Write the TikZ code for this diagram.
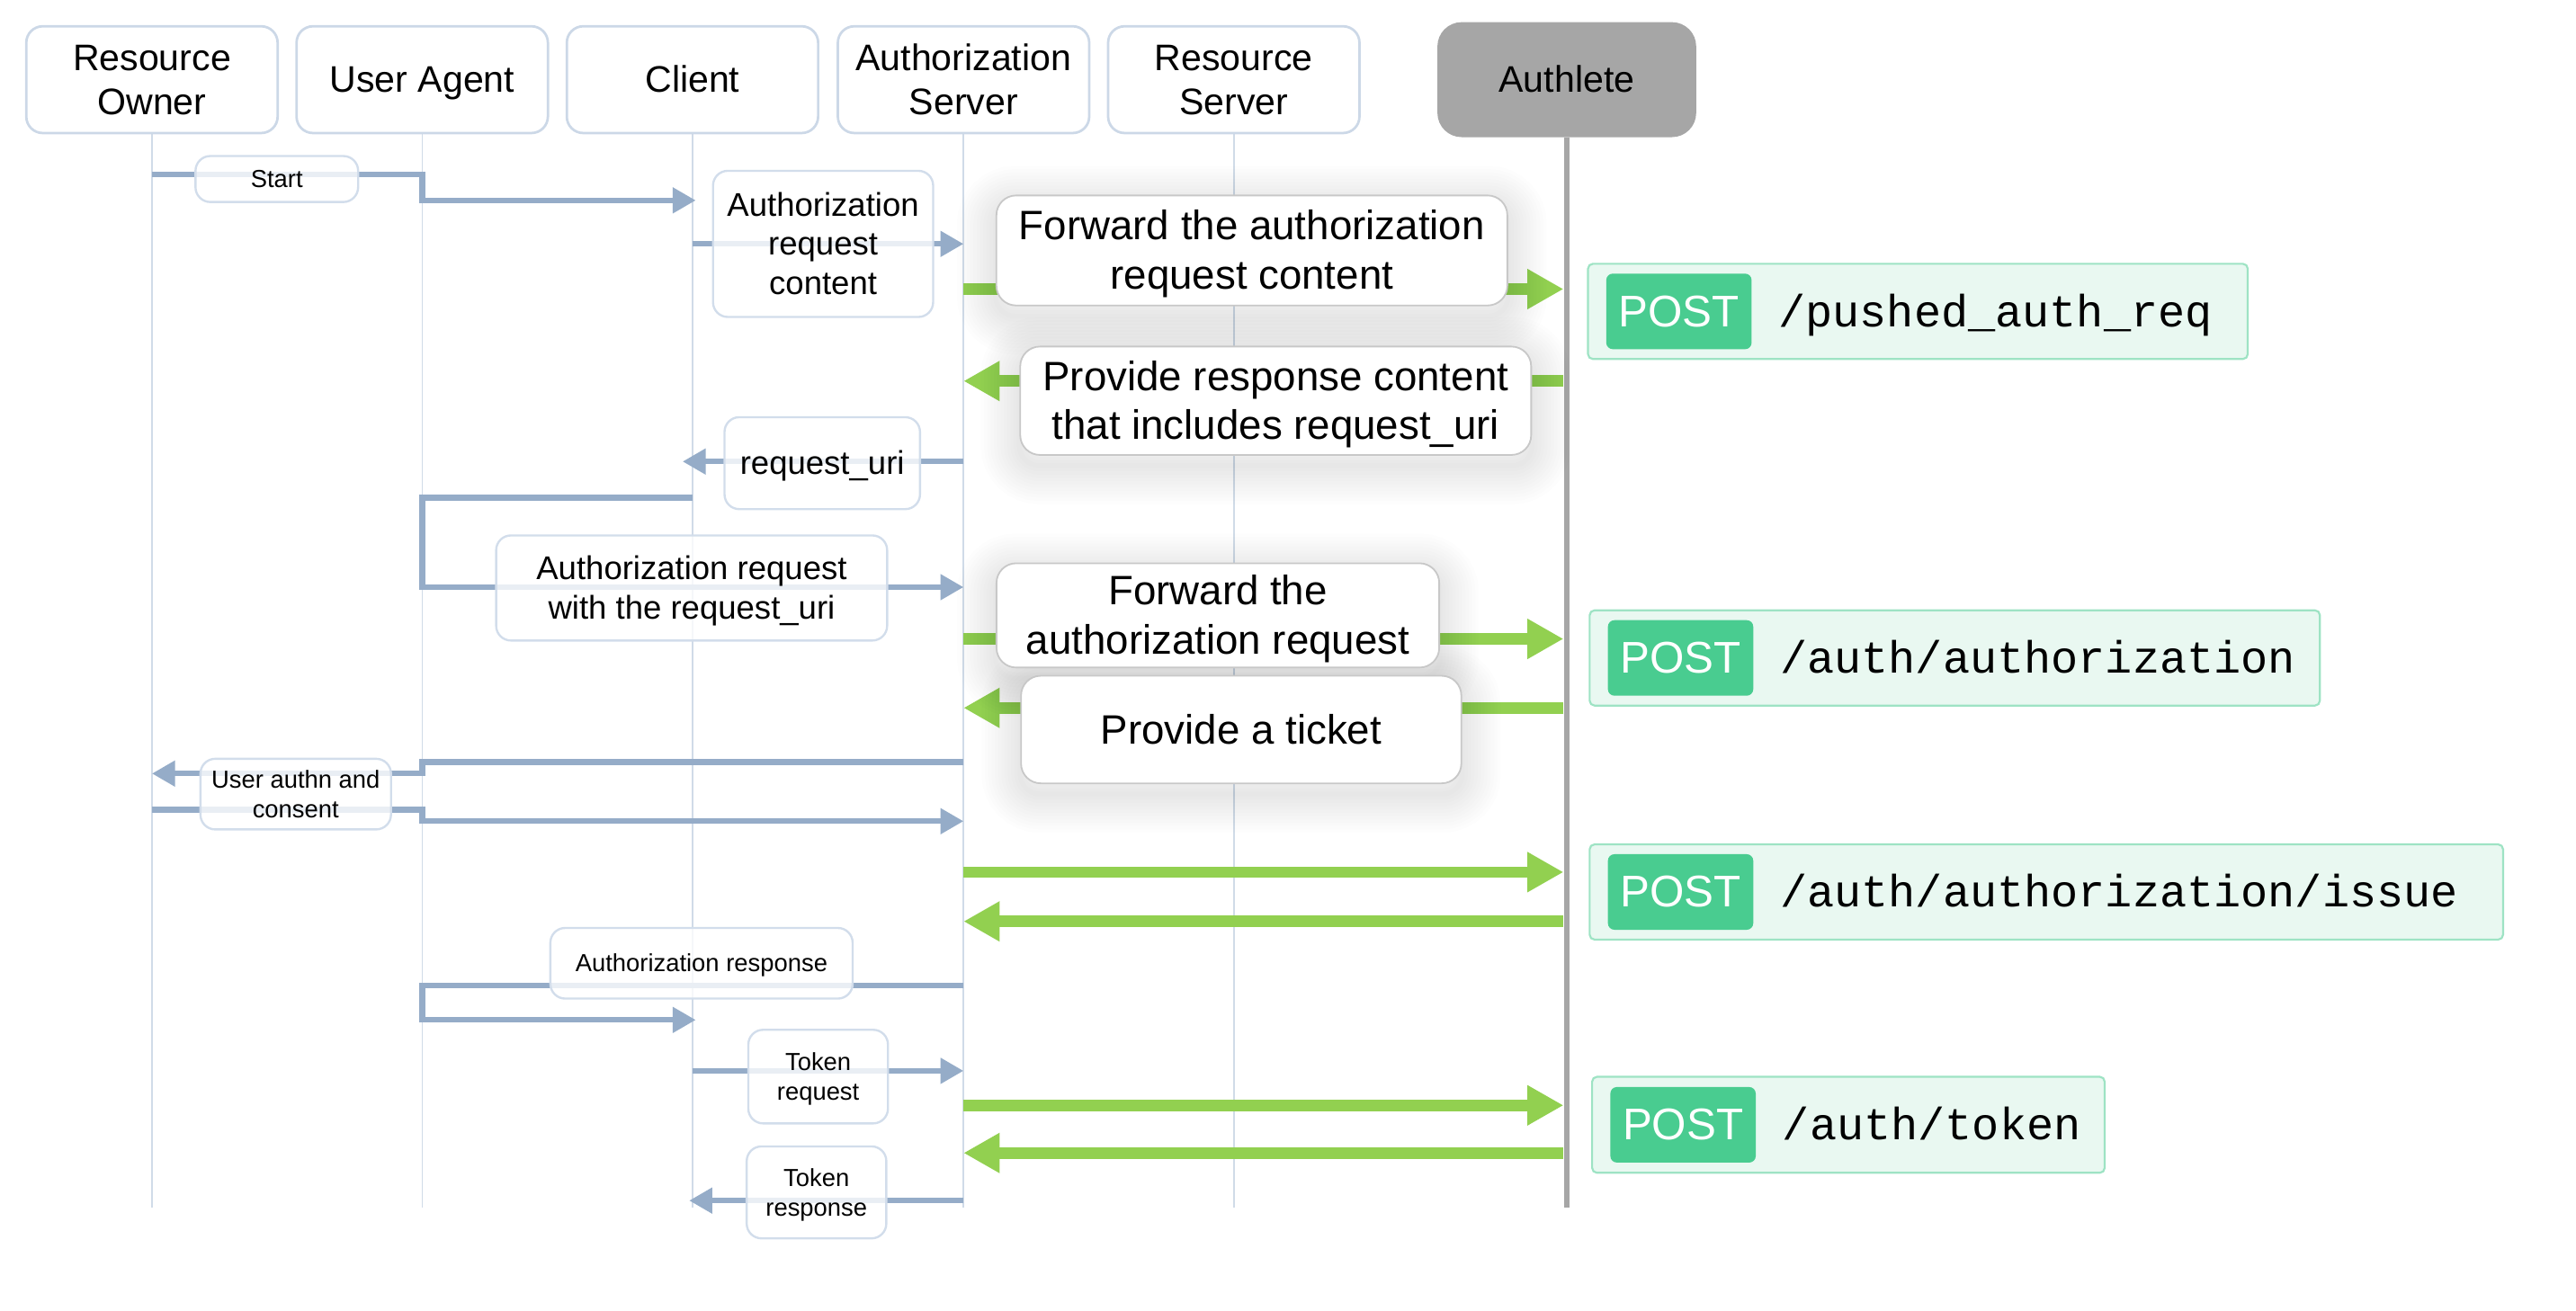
\documentclass[tikz,border=0pt]{standalone}
\usepackage{fontspec}
\setmainfont{Liberation Sans}
\newfontfamily\pathfont{Liberation Mono}
\usetikzlibrary{arrows.meta}
\definecolor{lane}{RGB}{208,219,232}
\definecolor{hdrborder}{RGB}{204,216,231}
\definecolor{msg}{RGB}{149,172,200}
\definecolor{lblborder}{RGB}{210,221,235}
\definecolor{grn}{RGB}{146,208,80}
\definecolor{authgray}{RGB}{166,166,166}
\definecolor{postfill}{RGB}{233,248,241}
\definecolor{postborder}{RGB}{158,227,196}
\definecolor{postbadge}{RGB}{73,204,144}
\definecolor{gborder}{RGB}{200,200,200}
\pgfdeclarelayer{lanes}
\pgfdeclarelayer{msgs}
\pgfdeclarelayer{shade}
\pgfsetlayers{lanes,msgs,shade,main}
\newcommand\hs{\rule{0pt}{0.905em}}
\newcommand\ds{\rule[-0.212em]{0pt}{0.212em}}
\newcommand\gshade[1]{%
  \foreach \w in {3,7,...,47}{%
    \draw[black, opacity=0.009, line width=\w pt, rounded corners=12pt,
      transform canvas={yshift=-6pt}] (#1.south west) rectangle (#1.north east);}}
\begin{document}
\begin{tikzpicture}[x=1pt,y=-1pt,
  hdr/.style={draw=hdrborder, line width=1.5pt, rounded corners=10pt, fill=white,
    minimum width=153pt, minimum height=65pt, align=center, inner sep=0pt,
    font=\fontsize{22.5}{27}\selectfont},
  laneline/.style={draw=lane, line width=1pt},
  bmsg/.style={draw=msg, line width=3.4pt, -{Triangle[length=14pt,width=15pt]}},
  gmsg/.style={draw=grn, line width=7pt, -{Triangle[length=22pt,width=23pt]}},
  blbl/.style={draw=lblborder, line width=1.3pt, rounded corners=9pt, fill=white,
    fill opacity=0.8, text opacity=1, align=center, inner sep=0pt},
  fs/.style={font=\fontsize{15}{18}\selectfont},
  fm/.style={font=\fontsize{20}{24}\selectfont},
  glbl/.style={draw=gborder, line width=1pt, rounded corners=12pt, fill=white,
    align=center, inner sep=0pt, font=\fontsize{25}{30}\selectfont},
  pbox/.style={draw=postborder, fill=postfill, line width=1.2pt, rounded corners=3pt,
    inner sep=0pt, anchor=north west},
  badge/.style={fill=postbadge, rounded corners=4pt, text=white, minimum width=88.5pt,
    minimum height=46pt, inner sep=0pt, font=\fontsize{27}{30}\selectfont, anchor=west},
  ptxt/.style={font=\pathfont\fontsize{27.5}{30}\selectfont, anchor=base west, inner sep=0pt}
]
\useasboundingbox (0,0) rectangle (1568,798);

% headers
\node[hdr] (ro) at (92.5,48.5) {\hs Resource\\Owner\ds};
\node[hdr] (ua) at (257,48.5) {\hs User Agent\ds};
\node[hdr] (cl) at (421.5,48.5) {\hs Client\ds};
\node[hdr] (as) at (586.5,48.5) {\hs Authorization\\Server\ds};
\node[hdr] (rs) at (751,48.5) {\hs Resource\\Server\ds};
\node[hdr, fill=authgray, draw=authgray, minimum width=156pt, minimum height=68.5pt,
  rounded corners=14pt] (al) at (953.7,48.5) {\hs Authlete\ds};

% labels on blue messages
\node[blbl, fs, minimum width=99pt, minimum height=28pt] (lStart) at (168.5,109) {\hs Start\ds};
\node[blbl, fm, minimum width=134pt, minimum height=89pt] (lARC) at (501,148.5) {\hs Authorization\\request\\content\ds};
\node[blbl, fm, minimum width=119pt, minimum height=56pt] (lRU) at (500.5,282) {\hs request\_uri\ds};
\node[blbl, fm, minimum width=238pt, minimum height=64pt] (lARU) at (421,358) {\hs Authorization request\\with the request\_uri\ds};
\node[blbl, fs, minimum width=116pt, minimum height=43pt] (lUAC) at (180,483.5) {\hs User authn and\\consent\ds};
\node[blbl, fs, minimum width=184pt, minimum height=43pt] (lAR) at (427,586.5) {\hs Authorization response\ds};
\node[blbl, fs, minimum width=85pt, minimum height=57pt] (lTQ) at (498,655.5) {\hs Token\\request\ds};
\node[blbl, fs, minimum width=85pt, minimum height=56pt] (lTS) at (497,726) {\hs Token\\response\ds};

% labels on green messages
\node[glbl, minimum width=311pt, minimum height=67pt] (gF1) at (762,152.5) {\hs Forward the authorization\\request content\ds};
\node[glbl, minimum width=311pt, minimum height=66pt] (gP1) at (776.5,244) {\hs Provide response content\\that includes request\_uri\ds};
\node[glbl, minimum width=269.5pt, minimum height=63.5pt] (gF2) at (741.3,374.7) {\hs Forward the\\authorization request\ds};
\node[glbl, minimum width=268pt, minimum height=65.5pt] (gP2) at (755.5,444.2) {\hs Provide a ticket\ds};

% Authlete API boxes
\node[pbox, minimum width=401.6pt, minimum height=58pt] (p1) at (966,160) {};
\node[badge] (p1b) at ([xshift=11.5pt]p1.west) {POST};
\node[ptxt] (p1t) at ([xshift=16pt]p1b.base east) {/pushed\_auth\_req};

\node[pbox, minimum width=444.5pt, minimum height=58pt] (p2) at (967,371) {};
\node[badge] (p2b) at ([xshift=11.5pt]p2.west) {POST};
\node[ptxt] (p2t) at ([xshift=16pt]p2b.base east) {/auth/authorization};

\node[pbox, minimum width=556pt, minimum height=58pt] (p3) at (967,513.5) {};
\node[badge] (p3b) at ([xshift=11.5pt]p3.west) {POST};
\node[ptxt] (p3t) at ([xshift=16pt]p3b.base east) {/auth/authorization/issue};

\node[pbox, minimum width=312pt, minimum height=58.5pt] (p4) at (968.5,655) {};
\node[badge] (p4b) at ([xshift=11.5pt]p4.west) {POST};
\node[ptxt] (p4t) at ([xshift=16pt]p4b.base east) {/auth/token};

% lifelines
\begin{pgfonlayer}{lanes}
\draw[laneline] (ro.south) -- (ro |- 0,735);
\draw[laneline] (ua.south) -- (ua |- 0,735);
\draw[laneline] (cl.south) -- (cl |- 0,735);
\draw[laneline] (as.south) -- (as |- 0,735);
\draw[laneline] (rs.south) -- (rs |- 0,735);
\draw[draw=authgray, line width=3.6pt] (al.south) -- (al |- 0,735);
\end{pgfonlayer}

% messages
\begin{pgfonlayer}{msgs}
\draw[bmsg, shorten >=-2pt] (ro |- 0,106) -- (ua |- 0,106) -- (ua |- 0,122) -- (cl |- 0,122);
\draw[bmsg] (cl |- 0,148.5) -- (as |- 0,148.5);
\draw[gmsg, shorten >=2pt] (as |- 0,176) -- (al |- 0,176);
\draw[gmsg, shorten <=2pt] (al |- 0,232) -- (as |- 0,232);
\draw[bmsg, shorten >=-6pt] (as |- 0,281) -- (cl |- 0,281);
\draw[bmsg] (cl |- 0,303) -- (ua |- 0,303) -- (ua |- 0,357.5) -- (as |- 0,357.5);
\draw[gmsg, shorten >=2pt] (as |- 0,389) -- (al |- 0,389);
\draw[gmsg, shorten <=2pt] (al |- 0,431) -- (as |- 0,431);
\draw[bmsg] (as |- 0,464) -- (ua |- 0,464) -- (ua |- 0,471) -- (ro |- 0,471);
\draw[bmsg] (ro |- 0,493) -- (ua |- 0,493) -- (ua |- 0,500) -- (as |- 0,500);
\draw[gmsg, shorten >=2pt] (as |- 0,531) -- (al |- 0,531);
\draw[gmsg, shorten <=2pt] (al |- 0,561) -- (as |- 0,561);
\draw[bmsg, shorten >=-2pt] (as |- 0,600) -- (ua |- 0,600) -- (ua |- 0,621) -- (cl |- 0,621);
\draw[bmsg] (cl |- 0,652) -- (as |- 0,652);
\draw[gmsg, shorten >=2pt] (as |- 0,673) -- (al |- 0,673);
\draw[gmsg, shorten <=2pt] (al |- 0,702) -- (as |- 0,702);
\draw[bmsg, shorten >=-2pt] (as |- 0,731) -- (cl |- 0,731);
\end{pgfonlayer}

% soft shadows of green labels
\begin{pgfonlayer}{shade}
\gshade{gF1}
\gshade{gP1}
\gshade{gF2}
\gshade{gP2}
\end{pgfonlayer}
\end{tikzpicture}
\end{document}
